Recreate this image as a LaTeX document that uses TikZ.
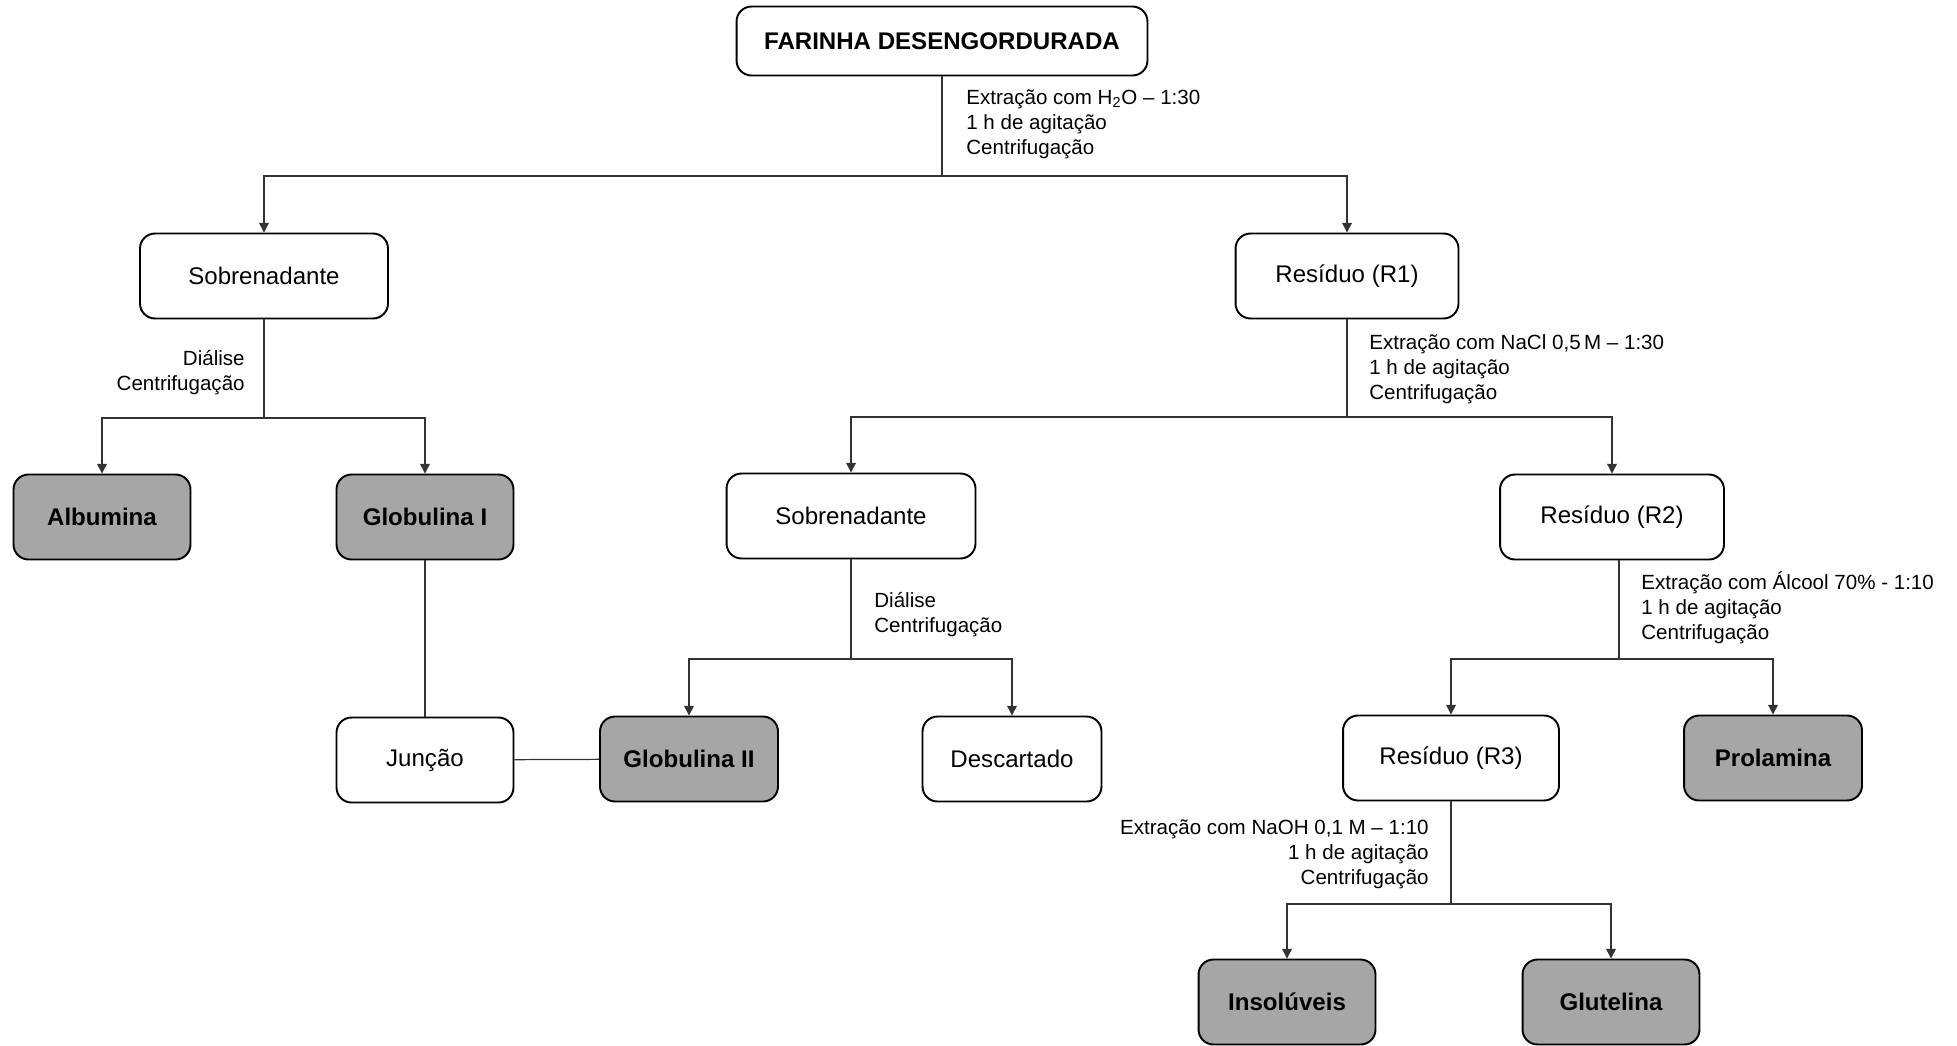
\documentclass[tikz,border=0pt]{standalone}
\usepackage{fontspec}
\setmainfont{Liberation Sans}
\usepackage{tikz}
\usetikzlibrary{arrows.meta}
\definecolor{cinza}{RGB}{166,166,166}

\begin{document}
\begin{tikzpicture}[x=0.02cm, y=-0.02cm,
    caixa/.style={draw, line width=1.1pt, rounded corners=0.3cm, minimum height=1.7cm, font=\fontsize{13.7}{16}\selectfont},
    fracao/.style={caixa, fill=cinza, font=\fontsize{13.7}{16}\selectfont\bfseries},
    nota/.style={inner sep=0pt, font=\fontsize{11.7}{14.2}\selectfont},
    liga/.style={line width=0.7pt, draw=black!80},
    seta/.style={liga, -{Triangle[length=5.5pt, width=5.5pt]}}]
    \useasboundingbox (0,0) rectangle (1957,1045);
    \node[caixa, font=\fontsize{13.7}{16}\selectfont\bfseries, minimum width=8.22cm, minimum height=1.38cm] (far) at (942,41) {FARINHA DESENGORDURADA};
    \node[caixa, minimum width=4.96cm] (sob1) at (264,276) {Sobrenadante};
    \node[caixa, minimum width=4.46cm] (r1) at (1347,276) {Resíduo (R1)};
    \node[fracao, minimum width=3.54cm] (alb) at (102,517) {Albumina};
    \node[fracao, minimum width=3.54cm] (glob1) at (425,517) {Globulina I};
    \node[caixa, minimum width=3.54cm] (junc) at (425,760) {Junção};
    \node[fracao, minimum width=3.56cm] (glob2) at (689,759) {Globulina II};
    \node[caixa, minimum width=4.98cm] (sob2) at (851,516) {Sobrenadante};
    \node[caixa, minimum width=3.58cm] (desc) at (1012,759) {Descartado};
    \node[caixa, minimum width=4.48cm] (r2) at (1612,517) {Resíduo (R2)};
    \node[caixa, minimum width=4.32cm] (r3) at (1451,758) {Resíduo (R3)};
    \node[fracao, minimum width=3.56cm] (prol) at (1773,758) {Prolamina};
    \node[fracao, minimum width=3.54cm] (ins) at (1287,1002) {Insolúveis};
    \node[fracao, minimum width=3.54cm] (glu) at (1611,1002) {Glutelina};

    \coordinate (j1) at (942,176);
    \coordinate (j2) at (264,418);
    \coordinate (j3) at (1347,417);
    \coordinate (j4) at (851,659);
    \coordinate (j5) at (1619,659);
    \coordinate (j6) at (1451,904);

    \draw[liga] (far) -- (j1);
    \draw[seta] (j1) -| (sob1);
    \draw[seta] (j1) -| (r1);
    \draw[liga] (sob1) -- (j2);
    \draw[seta] (j2) -| (alb);
    \draw[seta] (j2) -| (glob1);
    \draw[liga] (glob1) -- (junc);
    \draw[liga] (junc) -- (glob2);
    \draw[liga] (r1) -- (j3);
    \draw[seta] (j3) -| (sob2);
    \draw[seta] (j3) -| (r2);
    \draw[liga] (sob2) -- (j4);
    \draw[seta] (j4) -| (glob2);
    \draw[seta] (j4) -| (desc);
    \draw[liga] (r2.south -| j5) -- (j5);
    \draw[seta] (j5) -| (r3);
    \draw[seta] (j5) -| (prol);
    \draw[liga] (r3) -- (j6);
    \draw[seta] (j6) -| (ins);
    \draw[seta] (j6) -| (glu);

    \node[nota, anchor=base west, align=left] (n1) at (966,154) {Extração com H\textsubscript{2}O -- 1:30\\1 h de agitação\\Centrifugação};
    \node[nota, anchor=base east, align=right] (n2) at (245,390) {Diálise\\Centrifugação};
    \node[nota, anchor=base west, align=left] (n3) at (1369,399) {Extração com NaCl 0,5\,M -- 1:30\\1 h de agitação\\Centrifugação};
    \node[nota, anchor=base west, align=left] (n4) at (874,632) {Diálise\\Centrifugação};
    \node[nota, anchor=base west, align=left] (n5) at (1641,639) {Extração com Álcool 70\% - 1:10\\1 h de agitação\\Centrifugação};
    \node[nota, anchor=base east, align=right] (n6) at (1429,884) {Extração com NaOH 0,1 M -- 1:10\\1 h de agitação\\Centrifugação};
\end{tikzpicture}
\end{document}
